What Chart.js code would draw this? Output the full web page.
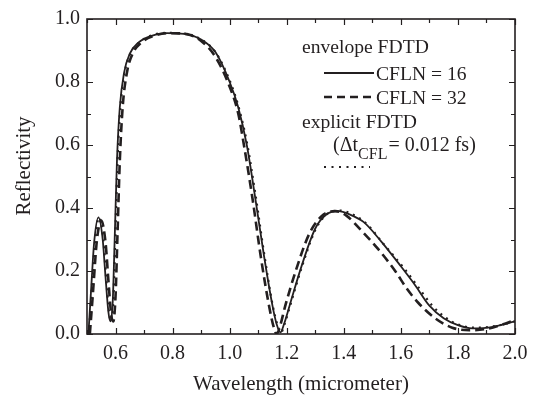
<!DOCTYPE html>
<html>
<head>
<meta charset="utf-8">
<script src="https://cdn.jsdelivr.net/npm/chart.js@4.4.1/dist/chart.umd.min.js"></script>
<style>
  html, body { margin: 0; padding: 0; background: #fff; }
</style>
</head>
<body>
<canvas id="chart" width="537" height="400"></canvas>
<script>
// envelope FDTD, CFLN = 16 (solid)
const waveSolid = [0.505, 0.515, 0.525, 0.54, 0.555, 0.565, 0.575, 0.582, 0.59, 0.597, 0.605, 0.615, 0.63, 0.65, 0.68, 0.72, 0.78, 0.84, 0.90, 0.95, 1.00, 1.03, 1.06, 1.09, 1.12, 1.15, 1.165, 1.178, 1.19, 1.21, 1.25, 1.30, 1.34, 1.38, 1.42, 1.47, 1.53, 1.60, 1.65, 1.70, 1.75, 1.80, 1.85, 1.92, 2.00];
const reflSolid = [0.0, 0.15, 0.29, 0.37, 0.30, 0.18, 0.07, 0.04, 0.10, 0.30, 0.55, 0.72, 0.83, 0.89, 0.925, 0.945, 0.955, 0.953, 0.935, 0.895, 0.80, 0.72, 0.60, 0.43, 0.25, 0.09, 0.03, 0.005, 0.03, 0.09, 0.21, 0.335, 0.38, 0.39, 0.38, 0.355, 0.295, 0.215, 0.155, 0.09, 0.05, 0.028, 0.018, 0.022, 0.04];

// envelope FDTD, CFLN = 32 (dashed)
const waveDashed = [0.51, 0.52, 0.535, 0.55, 0.565, 0.575, 0.585, 0.592, 0.60, 0.607, 0.615, 0.625, 0.64, 0.66, 0.69, 0.73, 0.79, 0.85, 0.90, 0.95, 1.00, 1.03, 1.05, 1.08, 1.11, 1.14, 1.155, 1.165, 1.175, 1.195, 1.235, 1.28, 1.33, 1.37, 1.41, 1.46, 1.52, 1.58, 1.62, 1.66, 1.72, 1.78, 1.84, 1.90, 1.95, 2.00];
const reflDashed = [0.0, 0.12, 0.30, 0.36, 0.29, 0.17, 0.06, 0.04, 0.12, 0.32, 0.55, 0.72, 0.83, 0.89, 0.925, 0.945, 0.955, 0.952, 0.93, 0.88, 0.785, 0.70, 0.60, 0.43, 0.24, 0.08, 0.02, 0.0, 0.02, 0.09, 0.21, 0.32, 0.38, 0.39, 0.375, 0.33, 0.27, 0.20, 0.145, 0.10, 0.05, 0.02, 0.012, 0.016, 0.028, 0.045];

// explicit FDTD (dotted)
const waveDotted = [0.507, 0.517, 0.528, 0.542, 0.557, 0.567, 0.577, 0.584, 0.592, 0.599, 0.607, 0.617, 0.632, 0.652, 0.682, 0.72, 0.78, 0.84, 0.90, 0.95, 1.00, 1.03, 1.06, 1.09, 1.12, 1.15, 1.167, 1.18, 1.192, 1.212, 1.252, 1.30, 1.34, 1.385, 1.43, 1.48, 1.54, 1.61, 1.66, 1.71, 1.76, 1.80, 1.86, 1.93, 2.00];
const reflDotted = [0.0, 0.15, 0.29, 0.37, 0.30, 0.18, 0.07, 0.04, 0.10, 0.30, 0.55, 0.72, 0.83, 0.89, 0.925, 0.946, 0.956, 0.954, 0.935, 0.895, 0.805, 0.725, 0.61, 0.445, 0.26, 0.095, 0.03, 0.005, 0.03, 0.09, 0.21, 0.33, 0.38, 0.392, 0.38, 0.35, 0.285, 0.21, 0.15, 0.09, 0.05, 0.03, 0.02, 0.025, 0.04];

const xTickStep = 0.1;
const yTickStep = 0.1;

const ink = '#231f20';
const serif = '"Liberation Serif", "DejaVu Serif", serif';

const toPoints = (xs, ys) => xs.map((x, i) => ({ x: x, y: ys[i] }));
const isMajor = (v) => Math.round(v * 10) % 2 === 0;

// box round the plot with inward tick marks on all four sides
const frame = {
    id: 'frame',
    afterDraw(chart) {
        const { ctx, chartArea: a, scales: { x, y } } = chart;
        ctx.save();
        ctx.strokeStyle = ink;
        ctx.lineWidth = 1.2;
        ctx.beginPath();
        x.ticks.forEach((t) => {
            const px = Math.round(x.getPixelForValue(t.value)) + 0.5;
            const len = isMajor(t.value) ? 6 : 4;
            ctx.moveTo(px, a.bottom); ctx.lineTo(px, a.bottom - len);
            ctx.moveTo(px, a.top); ctx.lineTo(px, a.top + len);
        });
        y.ticks.forEach((t) => {
            const py = Math.round(y.getPixelForValue(t.value)) + 0.5;
            const len = isMajor(t.value) ? 6 : 4;
            ctx.moveTo(a.left, py); ctx.lineTo(a.left + len, py);
            ctx.moveTo(a.right, py); ctx.lineTo(a.right - len, py);
        });
        ctx.stroke();
        ctx.lineWidth = 1.6;
        ctx.strokeRect(a.left, a.top, a.right - a.left, a.bottom - a.top);
        ctx.restore();
    },
};

// y title and the legend, written as in the figure
const legendText = {
    id: 'legendText',
    afterDraw(chart) {
        const ctx = chart.ctx;
        ctx.save();
        ctx.fillStyle = ink;
        ctx.strokeStyle = ink;

        ctx.save();
        ctx.translate(24, 166);
        ctx.rotate(-Math.PI / 2);
        ctx.textAlign = 'center';
        ctx.textBaseline = 'middle';
        ctx.font = '21px ' + serif;
        ctx.fillText('Reflectivity', 0, 0);
        ctx.restore();

        ctx.textBaseline = 'alphabetic';
        ctx.font = '19.6px ' + serif;
        ctx.fillText('envelope FDTD', 302, 53);
        ctx.fillText('CFLN = 16', 376, 80);
        ctx.fillText('CFLN = 32', 376, 104);
        ctx.fillText('explicit FDTD', 302, 128);
        ctx.font = '20px ' + serif;
        ctx.fillText('(\u0394t', 333, 151);
        let w = ctx.measureText('(\u0394t').width;
        ctx.font = '16px ' + serif;
        ctx.fillText('CFL', 333 + w, 159);
        w += ctx.measureText('CFL').width;
        ctx.font = '20px ' + serif;
        ctx.fillText('= 0.012 fs)', 334 + w, 151);

        ctx.lineWidth = 1.8;
        ctx.beginPath(); ctx.moveTo(324, 73); ctx.lineTo(374, 73); ctx.stroke();
        ctx.lineWidth = 2.6;
        ctx.setLineDash([8, 5]);
        ctx.beginPath(); ctx.moveTo(324, 97); ctx.lineTo(374, 97); ctx.stroke();
        ctx.lineWidth = 2;
        ctx.setLineDash([2, 5.5]);
        ctx.beginPath(); ctx.moveTo(324, 167); ctx.lineTo(370, 167); ctx.stroke();
        ctx.restore();
    },
};

const lineStyle = {
    borderColor: ink,
    pointRadius: 0,
    fill: false,
    cubicInterpolationMode: 'monotone',
};

new Chart(document.getElementById('chart').getContext('2d'), {
    type: 'line',
    data: {
        datasets: [
            { ...lineStyle, label: 'explicit FDTD', data: toPoints(waveDotted, reflDotted), borderWidth: 2.2, borderDash: [2, 5] },
            { ...lineStyle, label: 'CFLN = 32', data: toPoints(waveDashed, reflDashed), borderWidth: 2.6, borderDash: [9, 5] },
            { ...lineStyle, label: 'CFLN = 16', data: toPoints(waveSolid, reflSolid), borderWidth: 1.8 },
        ],
    },
    options: {
        responsive: false,
        animation: false,
        devicePixelRatio: 1,
        layout: { padding: { top: 11, right: 22, left: 0, bottom: 0 } },
        plugins: {
            legend: { display: false },
            tooltip: { enabled: false },
        },
        scales: {
            x: {
                type: 'linear',
                min: 0.5,
                max: 2.0,
                afterFit: (scale) => { scale.height = 66; },
                grid: { display: false, drawTicks: false },
                border: { display: false },
                ticks: {
                    stepSize: xTickStep,
                    autoSkip: false,
                    maxRotation: 0,
                    padding: 8,
                    color: ink,
                    font: { family: serif, size: 20 },
                    callback: (v) => (isMajor(v) ? v.toFixed(1) : ''),
                },
                title: {
                    display: true,
                    text: 'Wavelength (micrometer)',
                    color: ink,
                    font: { family: serif, size: 21 },
                    padding: 3,
                },
            },
            y: {
                min: 0,
                max: 1.0,
                afterFit: (scale) => { scale.width = 87; },
                grid: { display: false, drawTicks: false },
                border: { display: false },
                ticks: {
                    stepSize: yTickStep,
                    autoSkip: false,
                    padding: 7,
                    color: ink,
                    font: { family: serif, size: 20 },
                    callback: (v) => (isMajor(v) ? v.toFixed(1) : ''),
                },
            },
        },
    },
    plugins: [frame, legendText],
});
</script>
</body>
</html>
